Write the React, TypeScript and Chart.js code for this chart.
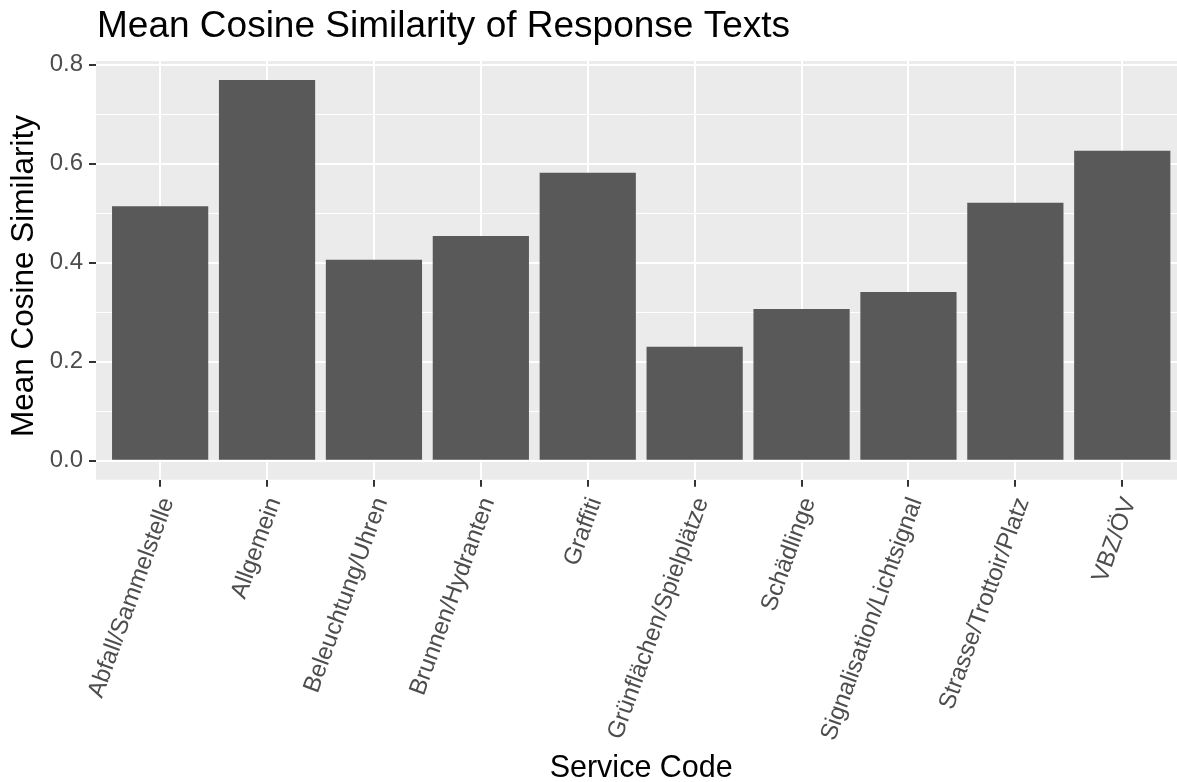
import React, { useEffect, useRef } from 'react';
import { Chart, registerables } from 'chart.js';

Chart.register(...registerables);

const categories = [
  'Abfall/Sammelstelle',
  'Allgemein',
  'Beleuchtung/Uhren',
  'Brunnen/Hydranten',
  'Graffiti',
  'Grünflächen/Spielplätze',
  'Schädlinge',
  'Signalisation/Lichtsignal',
  'Strasse/Trottoir/Platz',
  'VBZ/ÖV',
];
const meanSimilarity = [0.5137, 0.7687, 0.4059, 0.4538, 0.5816, 0.2302, 0.3063, 0.3407, 0.521, 0.626];
const yTickValues = [0, 0.1, 0.2, 0.3, 0.4, 0.5, 0.6, 0.7, 0.8];
const yMajorLabels: Record<string, string> = { '0': '0.0', '0.2': '0.2', '0.4': '0.4', '0.6': '0.6', '0.8': '0.8' };

const titleText = 'Mean Cosine Similarity of Response Texts';
const xTitleText = 'Service Code';
const yTitleText = 'Mean Cosine Similarity';

const FONT = '"Liberation Sans", Arial, Helvetica, sans-serif';
const W = 1190;
const H = 782;

const isMajor = (v: number) => Math.abs(v * 10 - Math.round(v * 10)) < 1e-6 && Math.round(v * 10) % 2 === 0;

export default function App() {
  const ref = useRef<HTMLCanvasElement | null>(null);

  useEffect(() => {
    document.body.style.margin = '0';
    document.body.style.overflow = 'hidden';
    const canvas = ref.current;
    if (!canvas) return;

    const maxVal = Math.max(...meanSimilarity);
    const pad = maxVal * 0.05;

    const ggPlugin = {
      id: 'ggdecor',
      beforeDraw(chart: any) {
        const { ctx, chartArea } = chart;
        ctx.save();
        ctx.fillStyle = '#ffffff';
        ctx.fillRect(0, 0, chart.width, chart.height);
        ctx.fillStyle = '#EBEBEB';
        ctx.fillRect(chartArea.left, chartArea.top, chartArea.right - chartArea.left, chartArea.bottom - chartArea.top);
        ctx.restore();
      },
      afterDraw(chart: any) {
        const { ctx, chartArea } = chart;
        const xs = chart.scales.x;
        ctx.save();
        ctx.fillStyle = '#000000';
        ctx.font = `37px ${FONT}`;
        ctx.textAlign = 'left';
        ctx.textBaseline = 'alphabetic';
        ctx.fillText(titleText, chartArea.left + 1, 37);
        ctx.font = `30.5px ${FONT}`;
        ctx.textAlign = 'center';
        ctx.fillText(xTitleText, (chartArea.left + chartArea.right) / 2, 777);
        ctx.save();
        ctx.translate(33, 276);
        ctx.rotate(-Math.PI / 2);
        ctx.font = `31.5px ${FONT}`;
        ctx.textAlign = 'center';
        ctx.textBaseline = 'alphabetic';
        ctx.fillText(yTitleText, 0, 0);
        ctx.restore();
        ctx.fillStyle = '#4D4D4D';
        ctx.font = `24px ${FONT}`;
        const ang = (70 * Math.PI) / 180;
        categories.forEach((c, i) => {
          const px = xs.getPixelForValue(i);
          ctx.save();
          ctx.translate(px + 7.5, chartArea.bottom + 19);
          ctx.rotate(-ang);
          ctx.textAlign = 'right';
          ctx.textBaseline = 'middle';
          ctx.fillText(c, 0, 0);
          ctx.restore();
        });
        ctx.restore();
      },
    };

    const chart = new Chart(canvas, {
      type: 'bar',
      data: {
        datasets: [
          {
            data: meanSimilarity.map((v, i) => ({ x: i, y: v })),
            backgroundColor: '#595959',
            borderWidth: 0,
            barPercentage: 0.9,
            categoryPercentage: 1.0,
          },
        ],
      },
      options: {
        responsive: false,
        animation: false,
        devicePixelRatio: 1,
        layout: { padding: { left: 0, top: 61, right: W - 1186.4, bottom: 0 } },
        plugins: {
          legend: { display: false },
          title: { display: false },
          tooltip: { enabled: false },
        },
        scales: {
          x: {
            type: 'linear',
            offset: false,
            min: -0.6,
            max: categories.length - 1 + 0.6,
            afterBuildTicks: (scale: any) => {
              scale.ticks = categories.map((_, i) => ({ value: i }));
            },
            afterFit: (scale: any) => {
              scale.height = H - 479.7;
            },
            ticks: { display: false },
            grid: {
              offset: false,
              color: '#FFFFFF',
              lineWidth: 2,
              drawTicks: true,
              tickLength: 7,
              tickColor: '#333333',
              tickWidth: 2,
            },
            border: { display: false },
          },
          y: {
            type: 'linear',
            min: -pad,
            max: maxVal + pad,
            afterBuildTicks: (scale: any) => {
              scale.ticks = yTickValues.map((v) => ({ value: v }));
            },
            afterFit: (scale: any) => {
              scale.width = 96;
            },
            ticks: {
              color: '#4D4D4D',
              font: { family: FONT, size: 24 },
              padding: 6,
              callback: (v: any) => {
                const key = String(Math.round(Number(v) * 10) / 10);
                return yMajorLabels[key] ?? '';
              },
            },
            grid: {
              color: '#FFFFFF',
              lineWidth: (ctx: any) => (isMajor(ctx.tick?.value ?? 0) ? 2 : 1),
              drawTicks: true,
              tickLength: 7,
              tickColor: (ctx: any) => (isMajor(ctx.tick?.value ?? 0) ? '#333333' : 'rgba(0,0,0,0)'),
              tickWidth: 2,
            },
            border: { display: false },
          },
        },
      },
      plugins: [ggPlugin],
    });

    return () => chart.destroy();
  }, []);

  return (
    <div style={{ position: 'fixed', left: 0, top: 0, width: 1177, height: 782, overflow: 'hidden', background: '#fff' }}>
      <canvas ref={ref} width={W} height={H} style={{ width: W, height: H, display: 'block' }} />
    </div>
  );
}
